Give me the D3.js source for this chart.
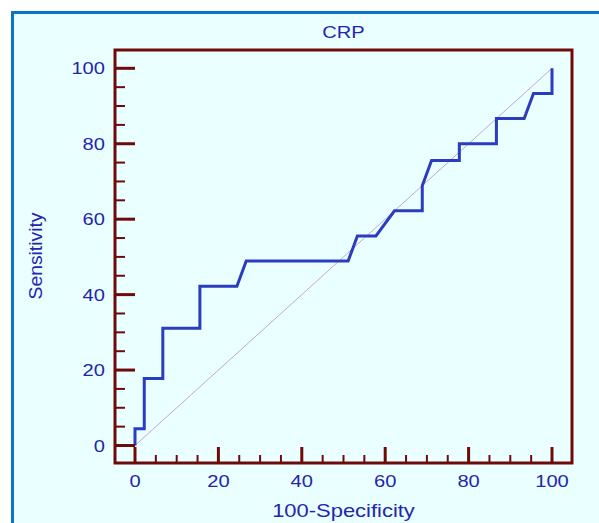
<!DOCTYPE html>
<html><head><meta charset="utf-8">
<script src="https://cdn.jsdelivr.net/npm/d3@7"></script>
<style>html,body{margin:0;padding:0;background:#fff;}svg{display:block;}</style>
</head><body>
<script>
const title = "CRP";
const xLabel = "100-Specificity";
const yLabel = "Sensitivity";
const xTicks = [0, 20, 40, 60, 80, 100];
const yTicks = [0, 20, 40, 60, 80, 100];
// ROC curve points: 100-Specificity (x) and Sensitivity (y)
const rocX = [0, 0, 2.22, 2.22, 6.67, 6.67, 15.56, 15.56, 24.44, 26.67, 51.11, 53.33, 57.78, 62.22, 68.89, 68.89, 71.11, 77.78, 77.78, 86.67, 86.67, 93.33, 95.56, 100, 100];
const rocY = [0, 4.44, 4.44, 17.78, 17.78, 31.11, 31.11, 42.22, 42.22, 48.89, 48.89, 55.56, 55.56, 62.22, 62.22, 68.89, 75.56, 75.56, 80, 80, 86.67, 86.67, 93.33, 93.33, 100];
const refLine = [[0, 0], [100, 100]];

const W = 599, H = 523;
const textCol = "#2424b0", axisCol = "#6e0a0a";
const SX = 1.22;
const svg = d3.select("body").append("svg").attr("width", W).attr("height", H);

svg.append("rect").attr("x", 12.5).attr("y", 12.5).attr("width", W).attr("height", H)
  .attr("fill", "#eaffff").attr("stroke", "#0a74c8").attr("stroke-width", 3);

const x = d3.scaleLinear().domain([0, 100]).range([135, 552]);
const y = d3.scaleLinear().domain([0, 100]).range([445.5, 68.3]);
const frame = {l: 115, t: 50, r: 572, b: 463};

function txt(px, py, s, size, anchor) {
  return svg.append("text").attr("transform", `translate(${px},${py}) scale(${SX},1)`)
    .attr("text-anchor", anchor || "middle").attr("fill", textCol)
    .attr("font-family", "Liberation Sans, Arial, sans-serif").attr("font-size", size).text(s);
}

// reference diagonal
svg.append("path").attr("d", d3.line().x(d => x(d[0])).y(d => y(d[1]))(refLine))
  .attr("stroke", "#c4a6d6").attr("stroke-width", 1).attr("fill", "none");

// ROC curve
const pts = rocX.map((v, i) => [v, rocY[i]]);
svg.append("path").attr("d", d3.line().x(d => x(d[0])).y(d => y(d[1]))(pts))
  .attr("stroke", "#2c3cbf").attr("stroke-width", 3).attr("fill", "none")
  .attr("stroke-linejoin", "miter");

// frame
svg.append("rect").attr("x", frame.l).attr("y", frame.t)
  .attr("width", frame.r - frame.l).attr("height", frame.b - frame.t)
  .attr("fill", "none").attr("stroke", axisCol).attr("stroke-width", 3);

// ticks
const minor = d3.range(0, 101, 5);
minor.forEach(v => {
  const major = v % 20 === 0;
  svg.append("line").attr("x1", x(v)).attr("x2", x(v))
    .attr("y1", frame.b).attr("y2", frame.b - (major ? 16 : 8))
    .attr("stroke", axisCol).attr("stroke-width", major ? 3 : 2);
  svg.append("line").attr("y1", y(v)).attr("y2", y(v))
    .attr("x1", frame.l).attr("x2", frame.l + (major ? 20 : 10))
    .attr("stroke", axisCol).attr("stroke-width", major ? 3 : 2);
});

xTicks.forEach(v => txt(x(v), 486.5, String(v), 16.5));
yTicks.forEach(v => txt(105, y(v) + 6, String(v), 16.5, "end"));

txt(343.5, 37.7, title, 16.5);
txt(343.5, 516.5, xLabel, 18);
svg.append("text").attr("transform", "translate(42,256) rotate(-90)")
  .attr("text-anchor", "middle").attr("fill", textCol)
  .attr("font-family", "Liberation Sans, Arial, sans-serif").attr("font-size", 18)
  .attr("textLength", 87).attr("lengthAdjust", "spacingAndGlyphs").text(yLabel);
</script>
</body></html>
